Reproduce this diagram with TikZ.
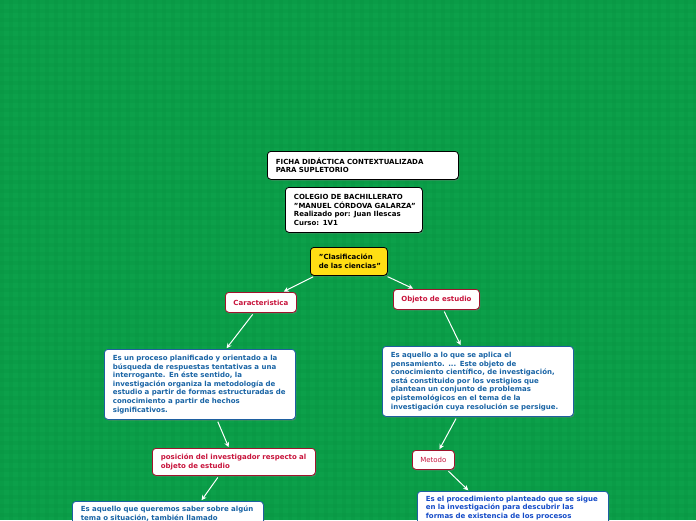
\documentclass[tikz,border=0pt]{standalone}
\usepackage{fontspec}
\setmainfont{DejaVu Sans}
\usetikzlibrary{arrows.meta,shadows}
\definecolor{bggreen}{RGB}{12,160,74}
\definecolor{bgdark}{RGB}{5,140,60}
\definecolor{redtxt}{RGB}{200,20,60}
\definecolor{redbrd}{RGB}{160,20,45}
\definecolor{bluetxt}{RGB}{25,100,165}
\definecolor{bluebrd}{RGB}{30,95,160}
\definecolor{bluetxt2}{RGB}{20,75,200}
\definecolor{yel}{RGB}{255,222,20}
\tikzset{
  base/.style={anchor=north west, rounded corners=3.5pt, line width=0.8pt, fill=white,
    inner xsep=8.5pt, inner ysep=4.5pt, align=left,
    font=\fontsize{7}{8.6}\selectfont\bfseries,
    drop shadow={shadow xshift=1pt, shadow yshift=-1.2pt, opacity=0.45}},
  blackbox/.style={base, draw=black, text=black},
  redbox/.style={base, draw=redbrd, text=redtxt},
  bluebox/.style={base, draw=bluebrd, text=bluetxt},
  smallbox/.style={redbox, align=center, inner xsep=2pt, inner ysep=2pt},
  arr/.style={draw=white, line width=1pt, -{Stealth[length=5pt,width=5pt]}, shorten <=2pt, shorten >=1pt}
}
\begin{document}
\begin{tikzpicture}[x=1pt,y=-1pt]
\useasboundingbox (0,0) rectangle (696,520);
\clip (0,0) rectangle (696,520);
\fill[bggreen] (0,0) rectangle (696,520);
\foreach \i in {0,9,...,700} {
  \fill[bgdark,opacity=0.18] (\i,0) rectangle (\i+4,520);
}
\foreach \j in {0,9,...,520} {
  \fill[bgdark,opacity=0.18] (0,\j) rectangle (696,\j+4);
}
\node[blackbox, text width=174pt, minimum height=28pt] (ficha) at (267,151)
  {\mbox{FICHA DIDÁCTICA CONTEXTUALIZADA}\\\mbox{PARA SUPLETORIO}};
\node[blackbox, text width=120pt, minimum height=45pt] (colegio) at (285,187)
  {\mbox{COLEGIO DE BACHILLERATO}\\\mbox{"MANUEL CÓRDOVA GALARZA"}\\\mbox{Realizado por: Juan Ilescas}\\\mbox{Curso: 1V1}};
\node[blackbox, fill=yel, text width=60pt, minimum height=28pt] (clas) at (310,247)
  {\mbox{"Clasificación}\\\mbox{de las ciencias"}};
\node[smallbox, text width=67pt, minimum height=20pt] (car) at (225,292)
  {Caracteristica};
\node[smallbox, text width=82pt, minimum height=20pt] (obj) at (393,289)
  {Objeto de estudio};
\node[bluebox, text width=174pt, minimum height=70pt] (b6) at (104,349)
  {\mbox{Es un proceso planificado y orientado a la}\\\mbox{búsqueda de respuestas tentativas a una}\\\mbox{interrogante. En éste sentido, la}\\\mbox{investigación organiza la metodología de}\\\mbox{estudio a partir de formas estructuradas de}\\\mbox{conocimiento a partir de hechos}\\\mbox{significativos.}};
\node[bluebox, text width=174pt, minimum height=70pt] (b7) at (382,346)
  {\mbox{Es aquello a lo que se aplica el}\\\mbox{pensamiento. ... Este objeto de}\\\mbox{conocimiento científico, de investigación,}\\\mbox{está constituido por los vestigios que}\\\mbox{plantean un conjunto de problemas}\\\mbox{epistemológicos en el tema de la}\\\mbox{investigación cuya resolución se persigue.}};
\node[redbox, text width=146pt, minimum height=27pt] (pos) at (152,448)
  {\mbox{posición del investigador respecto al}\\\mbox{objeto de estudio}};
\node[smallbox, font=\fontsize{7}{8.6}\selectfont, text width=38pt, minimum height=19pt] (met) at (412,450)
  {Metodo};
\node[bluebox, text width=174pt] (b10) at (72,501)
  {\mbox{Es aquello que queremos saber sobre algún}\\\mbox{tema o situación, también llamado}\\\mbox{}\\\mbox{}\\\mbox{}};
\node[bluebox, text=bluetxt2, text width=174pt] (b11) at (417,491)
  {\mbox{Es el procedimiento planteado que se sigue}\\\mbox{en la investigación para descubrir las}\\\mbox{formas de existencia de los procesos}\\\mbox{}\\\mbox{}};
\draw[arr] ([xshift=5pt]clas.south west) -- ([xshift=22pt]car.north);
\draw[arr] ([xshift=-2pt]clas.south east) -- ([xshift=21pt]obj.north west);
\draw[arr] ([xshift=-7pt]car.south) -- ([xshift=122pt]b6.north west);
\draw[arr] ([xshift=7pt]obj.south) -- ([xshift=79pt]b7.north west);
\draw[arr] ([xshift=113pt]b6.south west) -- ([xshift=77pt]pos.north west);
\draw[arr] ([xshift=75pt]b7.south west) -- ([xshift=27pt]met.north west);
\draw[arr] ([xshift=67pt]pos.south west) -- ([xshift=129pt]b10.north west);
\draw[arr] ([xshift=35pt]met.south west) -- ([xshift=52pt]b11.north west);
\end{tikzpicture}
\end{document}
